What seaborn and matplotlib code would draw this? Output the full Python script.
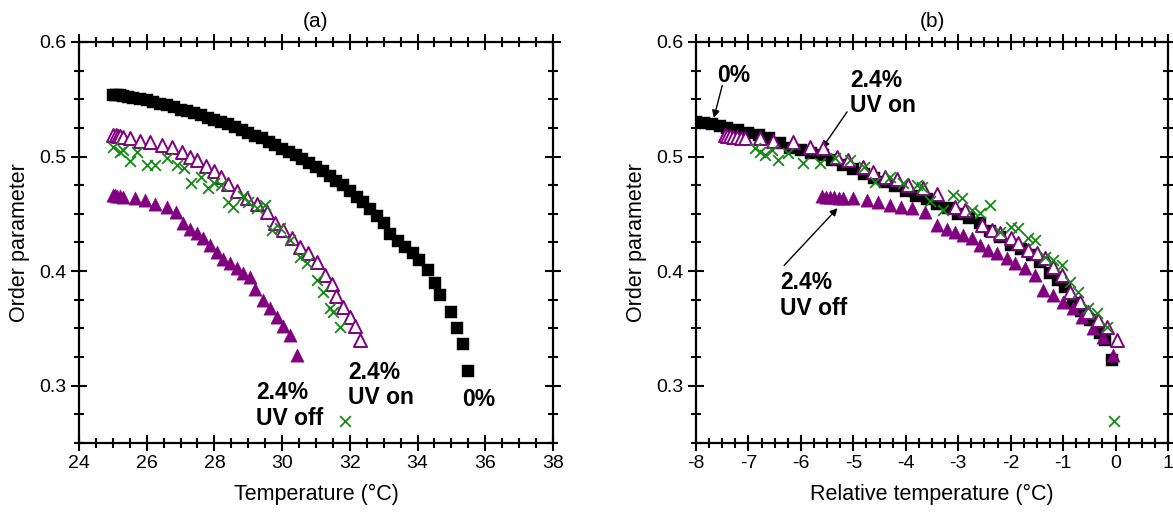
import matplotlib
matplotlib.use("Agg")
import matplotlib.pyplot as plt
import seaborn as sns
import numpy as np
from matplotlib.ticker import MultipleLocator

# ---------------- data: panel (a) ----------------
a_sq_T = [25.0, 25.1, 25.2, 25.3, 25.45, 25.6, 25.8, 26.0, 26.2, 26.4, 26.6, 26.8, 27.0, 27.2,
          27.4, 27.6, 27.8, 28.0, 28.2, 28.4, 28.6, 28.8, 29.0, 29.2, 29.4, 29.6, 29.8, 30.0,
          30.2, 30.4, 30.6, 30.8, 31.0, 31.2, 31.4, 31.6, 31.8, 32.0, 32.2, 32.4, 32.6, 32.8,
          33.0, 33.18, 33.42, 33.63, 33.86, 34.04, 34.31, 34.51, 34.66, 34.99, 35.16, 35.34, 35.49]
a_sq_S = [0.554, 0.554, 0.554, 0.553, 0.552, 0.551, 0.550, 0.549, 0.548, 0.546, 0.545, 0.543, 0.541, 0.540,
          0.538, 0.536, 0.534, 0.532, 0.530, 0.528, 0.526, 0.523, 0.521, 0.518, 0.516, 0.513, 0.510, 0.507,
          0.504, 0.501, 0.498, 0.494, 0.491, 0.487, 0.483, 0.479, 0.475, 0.470, 0.465, 0.460, 0.454, 0.448,
          0.442, 0.432, 0.426, 0.421, 0.416, 0.410, 0.401, 0.390, 0.379, 0.364, 0.350, 0.336, 0.313]

a_on_T = [25.0, 25.08, 25.15, 25.22, 25.3, 25.5, 25.8, 26.1, 26.45, 26.75, 27.04, 27.28, 27.5, 27.75,
          28.0, 28.2, 28.4, 28.66, 28.95, 29.25, 29.54, 29.79, 30.03, 30.28, 30.53, 30.77, 31.02,
          31.27, 31.46, 31.6, 31.8, 32.0, 32.15, 32.3]
a_on_S = [0.519, 0.519, 0.518, 0.518, 0.517, 0.516, 0.514, 0.513, 0.510, 0.508, 0.504, 0.500, 0.497, 0.492,
          0.487, 0.482, 0.476, 0.470, 0.4636, 0.459, 0.452, 0.442, 0.436, 0.429, 0.421, 0.4156, 0.408,
          0.397, 0.389, 0.378, 0.369, 0.360, 0.352, 0.340]

a_off_T = [25.0, 25.06, 25.12, 25.2, 25.31, 25.65, 25.95, 26.24, 26.59, 26.86, 27.08, 27.28, 27.48, 27.67,
           27.87, 28.07, 28.26, 28.46, 28.66, 28.85, 29.05, 29.2, 29.44, 29.64, 29.84, 30.03, 30.23, 30.43]
a_off_S = [0.4665, 0.4665, 0.466, 0.4655, 0.465, 0.4636, 0.462, 0.459, 0.456, 0.452, 0.442, 0.437, 0.433, 0.429,
           0.423, 0.417, 0.411, 0.407, 0.4025, 0.398, 0.395, 0.384, 0.375, 0.368, 0.360, 0.352, 0.344, 0.327]

a_x_T = [25.0, 25.2, 25.3, 25.5, 25.7, 26.0, 26.25, 26.6, 26.9, 27.1, 27.3, 27.6, 27.8, 28.0, 28.2, 28.4,
         28.55, 28.85, 29.0, 29.25, 29.5, 29.7, 29.94, 30.23, 30.53, 30.73, 31.03, 31.2, 31.4, 31.5, 31.7, 31.86]
a_x_S = [0.508, 0.504, 0.506, 0.496, 0.504, 0.493, 0.493, 0.499, 0.493, 0.490, 0.477, 0.482, 0.473, 0.477, 0.475, 0.460,
         0.456, 0.466, 0.460, 0.455, 0.458, 0.436, 0.438, 0.427, 0.412, 0.407, 0.392, 0.382, 0.368, 0.364, 0.351, 0.269]

# ---------------- data: panel (b) ----------------
b_sq_t = [-8.0, -7.85, -7.7, -7.55, -7.4, -7.2, -7.0, -6.8, -6.6, -6.4, -6.2, -6.0, -5.8, -5.58, -5.4, -5.2,
          -5.0, -4.8, -4.6, -4.4, -4.2, -4.0, -3.8, -3.6, -3.4, -3.2, -3.0, -2.8, -2.58, -2.4, -2.2, -2.0,
          -1.8, -1.6, -1.44, -1.25, -1.1, -0.96, -0.81, -0.65, -0.49, -0.3, -0.2, -0.07]
b_sq_S = [0.530, 0.529, 0.528, 0.527, 0.525, 0.523, 0.521, 0.519, 0.516, 0.512, 0.5075, 0.506, 0.503, 0.501, 0.497, 0.493,
          0.489, 0.485, 0.481, 0.478, 0.474, 0.470, 0.466, 0.463, 0.459, 0.455, 0.450, 0.446, 0.442, 0.435, 0.430, 0.423,
          0.419, 0.414, 0.408, 0.398, 0.392, 0.386, 0.372, 0.365, 0.357, 0.346, 0.340, 0.3225]

b_on_t = [-7.45, -7.4, -7.35, -7.3, -7.22, -7.15, -7.07, -6.78, -6.53, -6.15, -5.83, -5.58, -5.31, -5.1, -4.82,
          -4.62, -4.4, -4.17, -3.95, -3.67, -3.4, -3.06, -2.87, -2.55, -2.36, -2.2, -2.0, -1.86, -1.67, -1.5,
          -1.34, -1.19, -1.02, -0.87, -0.68, -0.52, -0.33, -0.16, 0.03]
b_on_S = [0.519, 0.518, 0.518, 0.517, 0.517, 0.516, 0.516, 0.516, 0.514, 0.513, 0.508, 0.5075, 0.500, 0.497, 0.491,
          0.4865, 0.482, 0.480, 0.475, 0.4726, 0.467, 0.456, 0.4534, 0.440, 0.436, 0.433, 0.429, 0.4246, 0.4185, 0.416,
          0.4115, 0.4037, 0.3967, 0.382, 0.373, 0.3644, 0.3574, 0.3513, 0.340]

b_off_t = [-5.6, -5.52, -5.44, -5.36, -5.28, -5.2, -5.0, -4.74, -4.53, -4.3, -4.1, -3.88, -3.63, -3.4, -3.21,
           -3.06, -2.9, -2.74, -2.58, -2.43, -2.26, -2.07, -1.92, -1.72, -1.53, -1.38, -1.19, -1.0, -0.81,
           -0.64, -0.43, -0.24, -0.05]
b_off_S = [0.4655, 0.465, 0.465, 0.4645, 0.464, 0.464, 0.4635, 0.462, 0.460, 0.458, 0.456, 0.455, 0.452, 0.440, 0.437,
           0.434, 0.4316, 0.429, 0.423, 0.4185, 0.416, 0.4115, 0.407, 0.4028, 0.3967, 0.3836, 0.3792, 0.373, 0.368,
           0.360, 0.3504, 0.3426, 0.327]

b_x_t = [-6.87, -6.78, -6.68, -6.55, -6.43, -6.25, -5.96, -5.64, -5.35, -5.06, -4.8, -4.59, -4.3, -4.05, -3.79,
         -3.7, -3.54, -3.29, -3.1, -2.93, -2.74, -2.58, -2.39, -2.2, -2.0, -1.86, -1.67, -1.53, -1.34, -1.19,
         -1.02, -0.87, -0.72, -0.52, -0.35, -0.16, -0.03]
b_x_S = [0.5075, 0.504, 0.501, 0.5057, 0.497, 0.503, 0.494, 0.494, 0.4988, 0.497, 0.491, 0.478, 0.482, 0.477, 0.475,
         0.4735, 0.461, 0.453, 0.4665, 0.464, 0.4534, 0.451, 0.458, 0.434, 0.4386, 0.4377, 0.429, 0.4273, 0.4124, 0.410,
         0.4054, 0.3906, 0.382, 0.3677, 0.3634, 0.351, 0.269]

titles = ["(a)", "(b)"]
xlabels = ["Temperature (\u00b0C)", "Relative temperature (\u00b0C)"]
ylabel = "Order parameter"

PURPLE = "#800080"
GREEN = "#138a13"

sns.set_style("ticks")
plt.rcParams["font.family"] = ["Liberation Sans", "DejaVu Sans"]
plt.rcParams["axes.unicode_minus"] = False
plt.rcParams["text.color"] = "black"
plt.rcParams["axes.labelcolor"] = "black"
plt.rcParams["xtick.color"] = "black"
plt.rcParams["ytick.color"] = "black"
plt.rcParams["axes.edgecolor"] = "black"

fig = plt.figure(figsize=(11.73, 5.15), dpi=100)
axA = fig.add_axes([79 / 1173, 72 / 515, 474 / 1173, 401 / 515])
axB = fig.add_axes([696 / 1173, 72 / 515, 472 / 1173, 401 / 515])

def draw(ax, sq, off, on, xx):
    sns.scatterplot(x=sq[0], y=sq[1], marker="s", s=76, color="black", edgecolor="black",
                    linewidth=0.3, ax=ax, zorder=3)
    sns.scatterplot(x=off[0], y=off[1], marker="^", s=92, color=PURPLE, edgecolor=PURPLE,
                    linewidth=0.3, ax=ax, zorder=4)
    sns.scatterplot(x=on[0], y=on[1], marker="^", s=88, color="white", edgecolor=PURPLE,
                    linewidth=1.4, ax=ax, zorder=5)
    sns.scatterplot(x=xx[0], y=xx[1], marker="x", s=60, color=GREEN, linewidth=1.3, ax=ax, zorder=6)

draw(axA, (a_sq_T, a_sq_S), (a_off_T, a_off_S), (a_on_T, a_on_S), (a_x_T, a_x_S))
draw(axB, (b_sq_t, b_sq_S), (b_off_t, b_off_S), (b_on_t, b_on_S), (b_x_t, b_x_S))

axA.set_xlim(24, 38)
axB.set_xlim(-8, 1)
for ax, t, xl in zip([axA, axB], titles, xlabels):
    ax.set_ylim(0.25, 0.6)
    ax.yaxis.set_major_locator(MultipleLocator(0.1))
    ax.yaxis.set_minor_locator(MultipleLocator(0.025))
    ax.set_title(t, fontsize=15, pad=11, color="black")
    ax.set_xlabel(xl, fontsize=15.5, labelpad=8, color="black")
    ax.set_ylabel(ylabel, fontsize=15.5, labelpad=7, color="black")
    for s in ax.spines.values():
        s.set_visible(True)
        s.set_linewidth(1.6)
        s.set_color("black")
    ax.tick_params(which="both", direction="inout", top=True, right=True, width=1.5,
                   colors="black", labelcolor="black", labelsize=14)
    ax.tick_params(which="major", length=12)
    ax.tick_params(which="minor", length=6.5)
    ax.tick_params(axis="x", pad=3)
    ax.tick_params(axis="y", pad=3)
    ax.grid(False)

axA.xaxis.set_major_locator(MultipleLocator(2))
axA.xaxis.set_minor_locator(MultipleLocator(0.5))
axA.set_yticks([0.3, 0.4, 0.5, 0.6])
axB.xaxis.set_major_locator(MultipleLocator(1))
axB.xaxis.set_minor_locator(MultipleLocator(0.25))
axB.set_yticks([0.3, 0.4, 0.5, 0.6])
axA.set_yticklabels(["0.3", "0.4", "0.5", "0.6"])
axB.set_yticklabels(["0.3", "0.4", "0.5", "0.6"])

tk = dict(fontsize=16.5, fontweight="bold", ha="left", va="center", linespacing=1.15, color="black")
axA.text(29.23, 0.283, "2.4%\nUV off", **tk)
axA.text(31.94, 0.3005, "2.4%\nUV on", **tk)
axA.text(35.31, 0.2876, "0%", **tk)

arrow = dict(arrowstyle="-|>", color="black", lw=1.0, mutation_scale=11, shrinkA=0, shrinkB=0)
axB.text(-7.6, 0.571, "0%", **tk)
axB.annotate("", xy=(-7.66, 0.5337), xytext=(-7.5, 0.562), arrowprops=arrow)
axB.text(-5.06, 0.5555, "2.4%\nUV on", **tk)
axB.annotate("", xy=(-5.6, 0.507), xytext=(-5.12, 0.539), arrowprops=arrow)
axB.text(-6.4, 0.379, "2.4%\nUV off", **tk)
axB.annotate("", xy=(-5.3, 0.455), xytext=(-6.32, 0.405), arrowprops=arrow)

fig.savefig("out.png", dpi=100)
